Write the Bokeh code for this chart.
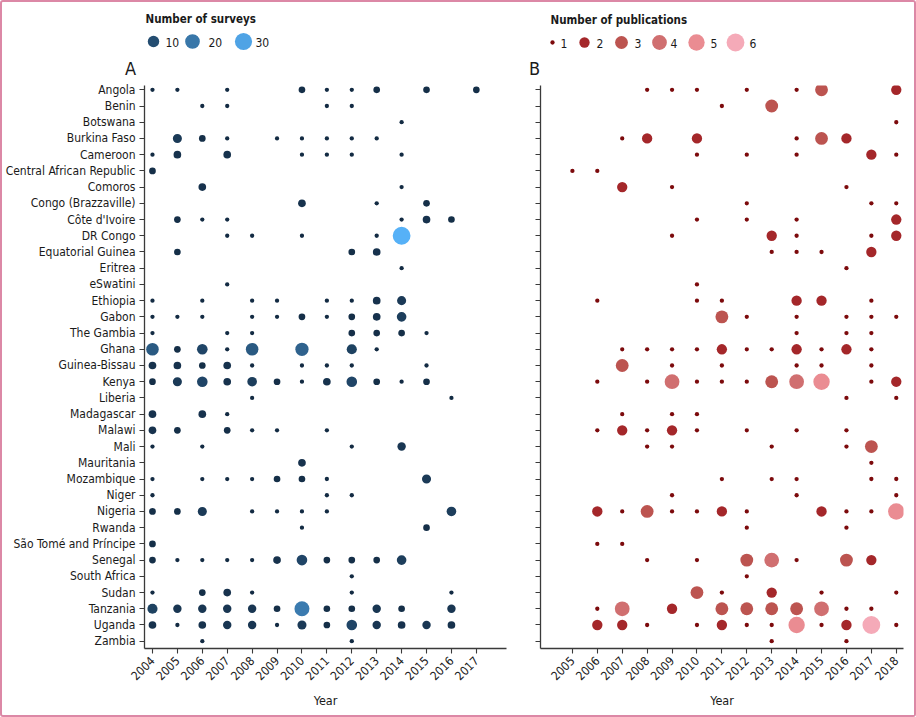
import math
from bokeh.plotting import figure
from bokeh.models import Range1d, FixedTicker, ColumnDataSource
from bokeh.layouts import column, row
from bokeh.embed import file_html
from bokeh.resources import INLINE
from bokeh.core.properties import value

# ---------------- data ----------------
countries = ["Angola", "Benin", "Botswana", "Burkina Faso", "Cameroon",
             "Central African Republic", "Comoros", "Congo (Brazzaville)",
             "Côte d'Ivoire", "DR Congo", "Equatorial Guinea", "Eritrea",
             "eSwatini", "Ethiopia", "Gabon", "The Gambia", "Ghana",
             "Guinea-Bissau", "Kenya", "Liberia", "Madagascar", "Malawi",
             "Mali", "Mauritania", "Mozambique", "Niger", "Nigeria", "Rwanda",
             "São Tomé and Príncipe", "Senegal", "South Africa", "Sudan",
             "Tanzania", "Uganda", "Zambia"]

survey_years = [2004, 2005, 2006, 2007, 2008, 2009, 2010, 2011, 2012, 2013, 2014, 2015, 2016, 2017]
publication_years = [2005, 2006, 2007, 2008, 2009, 2010, 2011, 2012, 2013, 2014, 2015, 2016, 2017, 2018]

# number of surveys (rows = countries, columns = survey_years; 0 = none)
survey_counts = [
    [1, 1, 0, 1, 0, 0, 2, 1, 1, 2, 0, 2, 0, 2],      # Angola
    [0, 0, 1, 1, 0, 0, 0, 1, 1, 0, 0, 0, 0, 0],      # Benin
    [0, 0, 0, 0, 0, 0, 0, 0, 0, 0, 1, 0, 0, 0],      # Botswana
    [0, 5, 2, 1, 0, 1, 1, 1, 1, 1, 0, 0, 0, 0],      # Burkina Faso
    [1, 3, 0, 3, 0, 0, 1, 1, 1, 0, 1, 0, 0, 0],      # Cameroon
    [2, 0, 0, 0, 0, 0, 0, 0, 0, 0, 0, 0, 0, 0],      # Central African Republic
    [0, 0, 3, 0, 0, 0, 0, 0, 0, 0, 1, 0, 0, 0],      # Comoros
    [0, 0, 0, 0, 0, 0, 3, 0, 0, 1, 0, 2, 0, 0],      # Congo (Brazzaville)
    [0, 2, 1, 1, 0, 0, 0, 0, 0, 0, 1, 3, 2, 0],      # Cote d'Ivoire
    [0, 0, 0, 1, 1, 0, 1, 0, 0, 1, 33, 0, 0, 0],     # DR Congo
    [0, 2, 0, 0, 0, 0, 0, 0, 2, 3, 0, 0, 0, 0],      # Equatorial Guinea
    [0, 0, 0, 0, 0, 0, 0, 0, 0, 0, 1, 0, 0, 0],      # Eritrea
    [0, 0, 0, 1, 0, 0, 0, 0, 0, 0, 0, 0, 0, 0],      # eSwatini
    [1, 0, 1, 0, 1, 1, 0, 1, 1, 3, 5, 0, 0, 0],      # Ethiopia
    [1, 1, 1, 0, 1, 1, 2, 1, 2, 3, 6, 0, 0, 0],      # Gabon
    [1, 0, 0, 1, 1, 0, 0, 0, 2, 2, 2, 1, 0, 0],      # The Gambia
    [13, 2, 8, 1, 13, 0, 15, 0, 7, 1, 0, 0, 0, 0],   # Ghana
    [3, 3, 2, 3, 1, 0, 1, 1, 1, 0, 0, 1, 0, 0],      # Guinea-Bissau
    [2, 5, 8, 3, 6, 2, 1, 3, 8, 2, 1, 2, 0, 0],      # Kenya
    [0, 0, 0, 0, 1, 0, 0, 0, 0, 0, 0, 0, 1, 0],      # Liberia
    [3, 0, 3, 1, 0, 0, 0, 0, 0, 0, 0, 0, 0, 0],      # Madagascar
    [3, 2, 0, 2, 1, 1, 0, 1, 0, 0, 0, 0, 0, 0],      # Malawi
    [1, 0, 1, 0, 0, 0, 0, 0, 1, 0, 4, 0, 0, 0],      # Mali
    [0, 0, 0, 0, 0, 0, 3, 0, 0, 0, 0, 0, 0, 0],      # Mauritania
    [1, 0, 1, 1, 1, 2, 2, 1, 0, 0, 0, 5, 0, 0],      # Mozambique
    [1, 0, 0, 0, 0, 0, 0, 1, 1, 0, 0, 0, 0, 0],      # Niger
    [2, 2, 5, 0, 1, 1, 1, 1, 0, 0, 0, 0, 6, 0],      # Nigeria
    [0, 0, 0, 0, 0, 0, 1, 0, 0, 0, 0, 2, 0, 0],      # Rwanda
    [2, 0, 0, 0, 0, 0, 0, 0, 0, 0, 0, 0, 0, 0],      # Sao Tome and Principe
    [2, 1, 1, 1, 1, 3, 8, 2, 2, 2, 6, 0, 0, 0],      # Senegal
    [0, 0, 0, 0, 0, 0, 0, 0, 1, 0, 0, 0, 0, 0],      # South Africa
    [1, 0, 2, 3, 1, 0, 0, 0, 1, 0, 0, 0, 1, 0],      # Sudan
    [7, 4, 4, 4, 4, 2, 21, 2, 2, 4, 2, 0, 4, 0],     # Tanzania
    [3, 1, 3, 4, 4, 1, 5, 2, 8, 4, 3, 4, 3, 0],      # Uganda
    [0, 0, 1, 0, 0, 0, 0, 0, 1, 0, 0, 0, 0, 0],      # Zambia
]

# number of publications (rows = countries, columns = publication_years)
publication_counts = [
    [0, 0, 0, 1, 1, 1, 0, 1, 0, 1, 3, 0, 0, 2],  # Angola
    [0, 0, 0, 0, 0, 0, 1, 0, 3, 0, 0, 0, 0, 0],  # Benin
    [0, 0, 0, 0, 0, 0, 0, 0, 0, 0, 0, 0, 0, 1],  # Botswana
    [0, 0, 1, 2, 0, 2, 0, 0, 0, 1, 3, 2, 0, 0],  # Burkina Faso
    [0, 0, 0, 0, 0, 1, 0, 1, 0, 1, 0, 0, 2, 1],  # Cameroon
    [1, 1, 0, 0, 0, 0, 0, 0, 0, 0, 0, 0, 0, 0],  # Central African Republic
    [0, 0, 2, 0, 1, 0, 0, 0, 0, 0, 0, 1, 0, 0],  # Comoros
    [0, 0, 0, 0, 0, 0, 0, 1, 0, 0, 0, 0, 1, 1],  # Congo (Brazzaville)
    [0, 0, 0, 0, 0, 1, 0, 1, 0, 1, 0, 0, 0, 2],  # Cote d'Ivoire
    [0, 0, 0, 0, 1, 0, 0, 0, 2, 1, 0, 0, 1, 2],  # DR Congo
    [0, 0, 0, 0, 0, 0, 0, 0, 1, 1, 1, 0, 2, 0],  # Equatorial Guinea
    [0, 0, 0, 0, 0, 0, 0, 0, 0, 0, 0, 1, 0, 0],  # Eritrea
    [0, 0, 0, 0, 0, 1, 0, 0, 0, 0, 0, 0, 0, 0],  # eSwatini
    [0, 1, 0, 0, 0, 1, 1, 0, 0, 2, 2, 0, 1, 0],  # Ethiopia
    [0, 0, 0, 0, 0, 0, 3, 1, 0, 1, 0, 1, 1, 1],  # Gabon
    [0, 0, 0, 0, 0, 0, 0, 0, 0, 1, 0, 1, 1, 0],  # The Gambia
    [0, 0, 1, 1, 1, 1, 2, 1, 1, 2, 1, 2, 1, 0],  # Ghana
    [0, 0, 3, 0, 1, 0, 1, 0, 0, 1, 1, 0, 1, 0],  # Guinea-Bissau
    [0, 1, 0, 1, 4, 1, 1, 1, 3, 4, 5, 0, 1, 2],  # Kenya
    [0, 0, 0, 0, 0, 0, 0, 0, 0, 0, 0, 1, 0, 1],  # Liberia
    [0, 0, 1, 0, 1, 1, 0, 0, 0, 0, 0, 0, 0, 0],  # Madagascar
    [0, 1, 2, 1, 2, 1, 0, 1, 0, 1, 0, 1, 0, 0],  # Malawi
    [0, 0, 0, 1, 1, 0, 0, 0, 1, 0, 0, 1, 3, 0],  # Mali
    [0, 0, 0, 0, 0, 0, 0, 0, 0, 0, 0, 0, 1, 0],  # Mauritania
    [0, 0, 0, 0, 0, 0, 1, 0, 1, 1, 0, 0, 1, 1],  # Mozambique
    [0, 0, 0, 0, 1, 0, 0, 0, 0, 1, 0, 0, 0, 1],  # Niger
    [0, 2, 1, 3, 1, 1, 2, 1, 0, 0, 2, 1, 1, 5],  # Nigeria
    [0, 0, 0, 0, 0, 0, 0, 1, 0, 0, 0, 1, 0, 0],  # Rwanda
    [0, 1, 1, 0, 0, 0, 0, 0, 0, 0, 0, 0, 0, 0],  # Sao Tome and Principe
    [0, 0, 0, 1, 0, 1, 0, 3, 4, 1, 0, 3, 2, 0],  # Senegal
    [0, 0, 0, 0, 0, 0, 0, 1, 0, 0, 0, 0, 0, 0],  # South Africa
    [0, 0, 0, 0, 0, 3, 1, 0, 2, 0, 1, 0, 0, 1],  # Sudan
    [0, 1, 4, 0, 2, 0, 3, 3, 3, 3, 4, 1, 1, 0],  # Tanzania
    [0, 2, 2, 1, 0, 1, 2, 1, 1, 5, 1, 2, 6, 1],  # Uganda
    [0, 0, 0, 0, 0, 0, 0, 0, 1, 0, 0, 1, 0, 0],  # Zambia
]

survey_legend_values = [10, 20, 30]
publication_legend_values = [1, 2, 3, 4, 5, 6]

# ---------------- styling helpers ----------------
FONT = "DejaVu Sans Condensed"
AXIS_COLOR = "#3a3a3a"
TEXT_COLOR = "#1a1a1a"
D_MIN, D_MAX = 4.3, 17.8   # point diameters (px) at the ends of each size scale

def _hex_rgb(h):
    h = h.lstrip("#")
    return [int(h[i:i + 2], 16) for i in (0, 2, 4)]

def _to_lab(h):
    def lin(c):
        c = c / 255.0
        return c / 12.92 if c <= 0.04045 else ((c + 0.055) / 1.055) ** 2.4
    r, g, b = [lin(c) for c in _hex_rgb(h)]
    X = (0.4124 * r + 0.3576 * g + 0.1805 * b) / 0.95047
    Y = (0.2126 * r + 0.7152 * g + 0.0722 * b)
    Z = (0.0193 * r + 0.1192 * g + 0.9505 * b) / 1.08883
    f = lambda t: t ** (1 / 3) if t > 0.008856 else 7.787 * t + 16 / 116
    fx, fy, fz = f(X), f(Y), f(Z)
    return (116 * fy - 16, 500 * (fx - fy), 200 * (fy - fz))

def _from_lab(L, a, b):
    fy = (L + 16) / 116
    fx = fy + a / 500
    fz = fy - b / 200
    finv = lambda t: t ** 3 if t ** 3 > 0.008856 else (t - 16 / 116) / 7.787
    X, Y, Z = finv(fx) * 0.95047, finv(fy), finv(fz) * 1.08883
    r = 3.2406 * X - 1.5372 * Y - 0.4986 * Z
    g = -0.9689 * X + 1.8758 * Y + 0.0415 * Z
    bb = 0.0557 * X - 0.2040 * Y + 1.0570 * Z
    def enc(c):
        c = 12.92 * c if c <= 0.0031308 else 1.055 * c ** (1 / 2.4) - 0.055
        return max(0, min(255, int(round(c * 255))))
    return "#%02x%02x%02x" % (enc(r), enc(g), enc(bb))

LOW_A, HIGH_A = _to_lab("#132B43"), _to_lab("#56B1F7")
A_MIN = min(v for r in survey_counts for v in r if v > 0)
A_MAX = max(v for r in survey_counts for v in r)
B_MIN = min(v for r in publication_counts for v in r if v > 0)
B_MAX = max(v for r in publication_counts for v in r)

def survey_color(v):
    t = max(0.0, min(1.0, (v - A_MIN) / (A_MAX - A_MIN)))
    return _from_lab(*[lo + (hi - lo) * t for lo, hi in zip(LOW_A, HIGH_A)])

def survey_size(v):
    return D_MIN + (D_MAX - D_MIN) * math.sqrt((v - A_MIN) / (A_MAX - A_MIN))

PUB_PALETTE = ["#7c0a0c", "#a4272a", "#bc5450", "#d06f70", "#ea8c92", "#f5aab8"]

def pub_color(v):
    return PUB_PALETTE[int(v) - 1]

def pub_size(v):
    return D_MIN + (D_MAX - D_MIN) * math.sqrt((v - B_MIN) / (B_MAX - B_MIN))

def long_form(matrix, years, size_fn, color_fn):
    xs, ys, ss, cs = [], [], [], []
    for i, rowvals in enumerate(matrix):
        for j, v in enumerate(rowvals):
            if v > 0:
                xs.append(years[j]); ys.append(i)
                ss.append(size_fn(v)); cs.append(color_fn(v))
    return ColumnDataSource(dict(x=xs, y=ys, s=ss, c=cs))

# ---------------- panels ----------------
n = len(countries)
def make_panel(years, xr, fw, left, right, show_labels):
    p = figure(frame_width=fw, frame_height=563,
               x_range=Range1d(*xr), y_range=Range1d(n - 1 + 0.45, -0.265),
               output_backend="svg", toolbar_location=None,
               min_border_left=left, min_border_right=right,
               min_border_top=5, min_border_bottom=67)
    p.outline_line_color = None
    p.xgrid.visible = False
    p.ygrid.visible = False
    for ax in (p.xaxis[0], p.yaxis[0]):
        ax.axis_line_color = AXIS_COLOR
        ax.axis_line_width = 1.3
        ax.major_tick_line_color = AXIS_COLOR
        ax.major_tick_line_width = 1.1
        ax.major_tick_out = 5
        ax.major_tick_in = 0
        ax.minor_tick_line_color = None
        ax.major_label_text_font = FONT
        ax.major_label_text_color = TEXT_COLOR
    p.xaxis.ticker = FixedTicker(ticks=years)
    p.xaxis.major_label_orientation = math.pi / 4
    p.xaxis.major_label_text_font_size = "12px"
    p.xaxis.axis_label = "Year"
    p.xaxis.axis_label_text_font = FONT
    p.xaxis.axis_label_text_font_size = "12.5px"
    p.xaxis.axis_label_text_font_style = "normal"
    p.xaxis.axis_label_text_color = TEXT_COLOR
    p.xaxis.axis_label_standoff = 6
    p.yaxis.ticker = FixedTicker(ticks=list(range(n)))
    if show_labels:
        p.yaxis.major_label_overrides = {i: c for i, c in enumerate(countries)}
    else:
        p.yaxis.major_label_overrides = {i: "" for i in range(n)}
    p.yaxis.major_label_text_font_size = "12px"
    p.yaxis.major_label_standoff = 4
    return p

pA = make_panel(survey_years, (2003.68, 2018.21), 362, 142, 14, True)
srcA = long_form(survey_counts, survey_years, survey_size, survey_color)
pA.scatter("x", "y", size="s", fill_color="c", line_color=None, source=srcA)

pB = make_panel(publication_years, (2003.72, 2018.29), 363, 20, 11, False)
srcB = long_form(publication_counts, publication_years, pub_size, pub_color)
pB.scatter("x", "y", size="s", fill_color="c", line_color=None, source=srcB)

# ---------------- legend / header strip ----------------
hdr = figure(width=912, height=78, x_range=Range1d(2, 914), y_range=Range1d(80, 2),
             output_backend="svg", toolbar_location=None, min_border=0,
             x_axis_type=None, y_axis_type=None)
hdr.outline_line_color = None
hdr.xgrid.visible = False
hdr.ygrid.visible = False

hdr.text(x=[145, 550], y=[18, 19], text=["Number of surveys", "Number of publications"],
         text_font=value(FONT), text_font_size="11.5px", text_font_style="bold",
         text_color=TEXT_COLOR, text_baseline="middle", text_align="left")

legA_x = [153, 192, 243]
legA_lab_x = [165, 208, 255]
hdr.scatter(x=legA_x, y=[41] * 3, size=[survey_size(v) for v in survey_legend_values],
            fill_color=[survey_color(v) for v in survey_legend_values], line_color=None)
hdr.text(x=legA_lab_x, y=[42] * 3, text=[str(v) for v in survey_legend_values],
         text_font=value(FONT), text_font_size="12px", text_color=TEXT_COLOR,
         text_baseline="middle", text_align="left")

legB_x = [552, 584, 621, 659, 696, 735]
legB_lab_x = [560, 596, 634, 670, 710, 749]
hdr.scatter(x=legB_x, y=[42] * 6, size=[pub_size(v) for v in publication_legend_values],
            fill_color=[pub_color(v) for v in publication_legend_values], line_color=None)
hdr.text(x=legB_lab_x, y=[43] * 6, text=[str(v) for v in publication_legend_values],
         text_font=value(FONT), text_font_size="12px", text_color=TEXT_COLOR,
         text_baseline="middle", text_align="left")

hdr.text(x=[130, 534], y=[68, 68], text=["A", "B"], text_font=value(FONT),
         text_font_size="18px", text_color=TEXT_COLOR, text_baseline="middle",
         text_align="center")

layout = column(hdr, row(pA, pB, spacing=0), spacing=0,
                styles={"border": "2px solid #dc88a6", "border-radius": "3px"})
open("out.html", "w").write(file_html(layout, INLINE))
